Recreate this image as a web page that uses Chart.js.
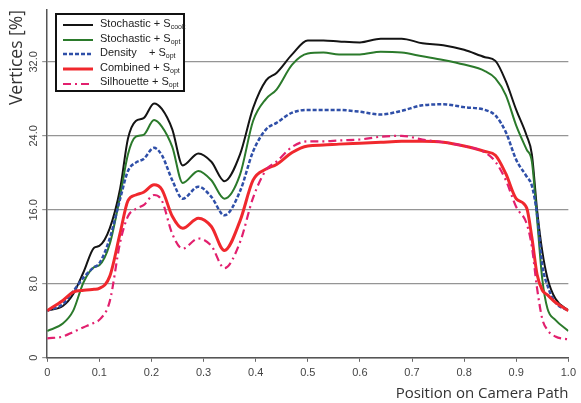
<!DOCTYPE html>
<html>
<head>
<meta charset="utf-8">
<script src="https://cdn.jsdelivr.net/npm/chart.js@4/dist/chart.umd.min.js"></script>
<style>
  html, body { margin: 0; padding: 0; background: #fff; }
  #wrap { position: relative; width: 581px; height: 403px; }
  #legend {
    position: absolute; left: 55px; top: 13px; width: 130px; height: 79px;
    border: 2px solid #111; background: #fff; box-sizing: border-box;
    font-family: "Liberation Sans", Arial, sans-serif; font-size: 11px; color: #222;
    padding: 3px 0 0 6px;
  }
  #legend .row { height: 14.6px; line-height: 14.6px; white-space: pre; display: flex; align-items: center; }
  #legend svg { margin-right: 7px; flex: none; }
  #legend sub { font-size: 7px; vertical-align: -2px; }
</style>
</head>
<body>
<div id="wrap">
  <canvas id="chartCanvas" width="581" height="403"></canvas>
  <div id="legend"></div>
</div>
<script>
// position along the camera path (shared by all series)
var positions = [0, 0.03, 0.05, 0.07, 0.09, 0.10, 0.12, 0.14, 0.155, 0.17, 0.185, 0.205, 0.22, 0.24, 0.26,
  0.29, 0.315, 0.34, 0.37, 0.395, 0.42, 0.44, 0.47, 0.50, 0.53, 0.56, 0.60, 0.64, 0.68, 0.72, 0.76,
  0.80, 0.84, 0.86, 0.88, 0.90, 0.92, 0.93, 0.94, 0.95, 0.96, 0.975, 1.0];

var stochasticCook = [5.1, 5.6, 6.9, 9.3, 11.9, 12.1, 14, 18.3, 23.7, 25.6, 25.9, 27.5, 26.9, 24.7, 20.8,
  22.1, 21.2, 19.1, 22, 27, 30, 30.8, 32.8, 34.3, 34.3, 34.2, 34.1, 34.5, 34.5, 34.0, 33.8,
  33.3, 32.5, 32.1, 29.9, 26.8, 24, 22, 16, 11.5, 8.6, 6.4, 5.1];
var stochasticOpt = [2.9, 3.7, 5.1, 8.2, 9.8, 10, 12.3, 17.5, 22, 23.9, 24.1, 25.7, 25, 22.8, 18.9,
  20.2, 19.2, 17.2, 19.8, 25.6, 28, 29, 31.7, 32.9, 33, 32.8, 32.8, 33.1, 33, 32.6, 32.2,
  31.7, 31, 30.2, 28.4, 25.1, 22.5, 21.2, 15, 8.5, 5.3, 4.1, 2.9];
var densityOpt = [5.1, 5.8, 7.2, 8.7, 9.8, 10.2, 12.9, 17.2, 20.2, 21.1, 21.5, 22.7, 21.9, 19.2, 17.2,
  18.5, 17.4, 15.4, 18, 22.3, 24.7, 25.4, 26.5, 26.8, 26.8, 26.8, 26.6, 26.3, 26.7, 27.3, 27.4,
  27.1, 26.8, 26.2, 24.4, 21.4, 19.6, 18.6, 15.5, 10, 7.8, 6.0, 5.1];
var combinedOpt = [5.1, 6.2, 7.1, 7.3, 7.4, 7.5, 8.8, 13.5, 17, 17.6, 17.9, 18.7, 18.2, 15.3, 14,
  15.1, 14.2, 11.6, 14.8, 19.2, 20.4, 20.9, 22.2, 22.9, 23, 23.1, 23.2, 23.3, 23.4, 23.4, 23.3,
  22.9, 22.3, 21.9, 19.9, 17.2, 16.2, 13, 9, 7.3, 6.8, 6.0, 5.1];
var silhouetteOpt = [2.1, 2.3, 2.8, 3.3, 3.8, 4.1, 6.1, 12.5, 15.3, 16.1, 16.5, 17.6, 17, 13.4, 11.8,
  12.9, 12.1, 9.7, 12.5, 17.3, 20.3, 21.2, 22.8, 23.4, 23.4, 23.5, 23.6, 23.9, 24, 23.6, 23.3,
  22.9, 22.2, 21.2, 19.2, 16.3, 14.5, 12, 7.5, 4.2, 3.0, 2.3, 2.0];

var methodNames = ['Stochastic', 'Stochastic', 'Density   ', 'Combined', 'Silhouette'];
var methodSubs = ['cook', 'opt', 'opt', 'opt', 'opt'];
var xTicks = [0, 0.1, 0.2, 0.3, 0.4, 0.5, 0.6, 0.7, 0.8, 0.9, 1.0];
var yTicks = [0, 8, 16, 24, 32];

var seriesValues = [stochasticCook, stochasticOpt, densityOpt, combinedOpt, silhouetteOpt];
var styles = [
  { color: '#141414', width: 2, dash: [] },
  { color: '#2b7a2b', width: 2, dash: [] },
  { color: '#2f4fa8', width: 2.5, dash: [4, 2] },
  { color: '#f0282d', width: 3, dash: [] },
  { color: '#e2206e', width: 2.2, dash: [8, 4, 2, 4] }
];

function toPoints(values) {
  return values.map(function (v, i) { return { x: positions[i], y: v }; });
}

var datasets = seriesValues.map(function (vals, i) {
  return {
    label: methodNames[i].trim() + ' + S_' + methodSubs[i],
    data: toPoints(vals),
    borderColor: styles[i].color,
    borderWidth: styles[i].width,
    borderDash: styles[i].dash,
    pointRadius: 0,
    fill: false,
    cubicInterpolationMode: 'monotone'
  };
});
// draw in reverse so black ends up on top
datasets.reverse();

var ctx = document.getElementById('chartCanvas').getContext('2d');
var chart = new Chart(ctx, {
  type: 'line',
  data: { datasets: datasets },
  options: {
    responsive: false,
    animation: false,
    layout: { padding: { top: 10, right: 4, left: 7, bottom: 0 } },
    plugins: { legend: { display: false }, tooltip: { enabled: false } },
    scales: {
      x: {
        type: 'linear', min: 0, max: 1,
        afterBuildTicks: function (axis) { axis.ticks = xTicks.map(function (v) { return { value: v }; }); },
        ticks: {
          color: '#444', font: { family: 'Liberation Sans', size: 11 }, maxRotation: 0, padding: 5,
          callback: function (v) { return v === 0 ? '0' : v.toFixed(1); }
        },
        grid: { display: true, drawOnChartArea: false, color: '#666', tickLength: 4 },
        border: { color: '#555', width: 1.5 },
        title: {
          display: true, text: 'Position on Camera Path', align: 'end', color: '#333',
          font: { family: 'Open Sans', size: 15 }, padding: { top: 0, bottom: 0 }
        }
      },
      y: {
        type: 'linear', min: 0, max: 37.6,
        afterBuildTicks: function (axis) { axis.ticks = yTicks.map(function (v) { return { value: v }; }); },
        ticks: {
          color: '#444', font: { family: 'Liberation Sans', size: 11 }, minRotation: 90, maxRotation: 90,
          crossAlign: 'center', padding: -2,
          callback: function (v) { return v === 0 ? '0' : v.toFixed(1); }
        },
        grid: { color: '#959595', lineWidth: 1.2, tickLength: 5 },
        border: { color: '#555', width: 1.5 },
        title: {
          display: true, text: 'Vertices [%]', align: 'end', color: '#333',
          font: { family: 'Open Sans', size: 17.5 }, padding: { top: 0, bottom: 5 }
        }
      }
    }
  }
});

// legend box inside the plot, built from the same names and styles
var legend = document.getElementById('legend');
seriesValues.forEach(function (vals, i) {
  var row = document.createElement('div');
  row.className = 'row';
  var s = styles[i];
  row.innerHTML = '<svg width="30" height="6"><line x1="0" y1="3" x2="30" y2="3" stroke="' + s.color +
    '" stroke-width="' + s.width + '" stroke-dasharray="' + (s.dash.length ? s.dash.join(' ') : 'none') + '"/></svg>' +
    '<span>' + methodNames[i] + ' + S<sub>' + methodSubs[i] + '</sub></span>';
  legend.appendChild(row);
});
</script>
</body>
</html>
